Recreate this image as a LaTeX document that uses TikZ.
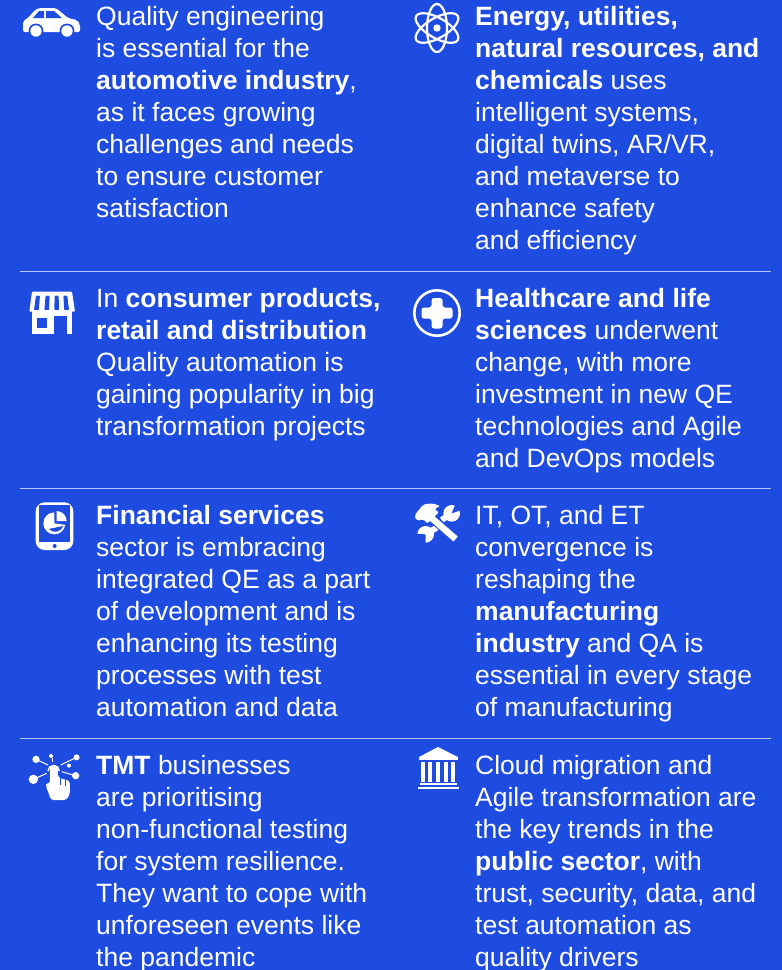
\documentclass[tikz,border=0pt]{standalone}
\usepackage{fontspec}
\setmainfont{Liberation Sans}
\definecolor{bg}{HTML}{1E4BE0}
\tikzset{
 x=1pt,y=-1pt,
 txt/.style={anchor=north west,inner sep=0pt,text=white,align=left,font=\fontsize{26.5}{32}\selectfont},
 rule/.style={draw=white!70!bg,line width=1pt},
 ic/.style={fill=white,draw=none},
 icb/.style={fill=bg,draw=none},
 icl/.style={draw=white,line width=2.2pt,fill=none},
 zoomed/.style={shift={#1},x=0.3333pt,y=-0.3333pt}
}
\begin{document}
\begin{tikzpicture}
\fill[bg] (0,0) rectangle (782,970);
\useasboundingbox (0,0) rectangle (782,970);
% rules
\coordinate (r1a) at (20,271); \coordinate (r1b) at (771,271);
\coordinate (r2a) at (20,488); \coordinate (r2b) at (771,488);
\coordinate (r3a) at (20,738); \coordinate (r3b) at (771,738);
\draw[rule] (r1a) -- (r1b);
\draw[rule] (r2a) -- (r2b);
\draw[rule] (r3a) -- (r3b);
% text
\node[txt] (t1) at (96,6) {Quality engineering\\is essential for the\\\textbf{automotive industry},\\as it faces growing\\challenges and needs\\to ensure customer\\satisfaction};
\node[txt] (t2) at (475,6) {\textbf{Energy, utilities,}\\\textbf{natural resources, and}\\\textbf{chemicals} uses\\intelligent systems,\\digital twins, AR/VR,\\and metaverse to\\enhance safety\\and efficiency};
\node[txt] (t3) at (96,288) {In \textbf{consumer products,}\\\textbf{retail and distribution}\\Quality automation is\\gaining popularity in big\\transformation projects};
\node[txt] (t4) at (475,288) {\textbf{Healthcare and life}\\\textbf{sciences} underwent\\change, with more\\investment in new QE\\technologies and Agile\\and DevOps models};
\node[txt] (t5) at (96,505) {\textbf{Financial services}\\sector is embracing\\integrated QE as a part\\of development and is\\enhancing its testing\\processes with test\\automation and data};
\node[txt] (t6) at (475,505) {IT, OT, and ET\\convergence is\\reshaping the\\\textbf{manufacturing}\\\textbf{industry} and QA is\\essential in every stage\\of manufacturing};
\node[txt] (t7) at (96,755) {\textbf{TMT} businesses\\are prioritising\\non-functional testing\\for system resilience.\\They want to cope with\\unforeseen events like\\the pandemic};
\node[txt] (t8) at (475,755) {Cloud migration and\\Agile transformation are\\the key trends in the\\\textbf{public sector}, with\\trust, security, data, and\\test automation as\\quality drivers};
% car
\fill[ic,rounded corners=2pt] (23,32) -- (23,21) -- (28,18) -- (35,10) -- (39,8) -- (56,8) -- (68,18) -- (77,20) -- (80,24) -- (80,32) -- cycle;
\fill[icb] (33,18) -- (39,11) -- (44,11) -- (44,18) -- cycle;
\fill[icb] (46,11) -- (54,11) -- (62,18) -- (46,18) -- cycle;
\fill[icb] (36,31) circle (7.5); \fill[icb] (67,31) circle (7.5);
\fill[ic] (36,31) circle (5.7); \fill[ic] (67,31) circle (5.7);
% atom
\begin{scope}[shift={(437,28)}]
\draw[icl] (0,0) ellipse [x radius=10,y radius=24];
\draw[icl,rotate=60] (0,0) ellipse [x radius=10,y radius=24];
\draw[icl,rotate=-60] (0,0) ellipse [x radius=10,y radius=24];
\fill[ic] (0,0) circle (3.7);
\end{scope}
% shop
\begin{scope}[zoomed={(10,275)}]
\fill[ic,rounded corners=1pt] (66,50) -- (186,50) -- (195,110) -- (58,110) -- cycle;
\foreach \a/\b in {84/79,113/110,140/140,166/170}{
  \fill[icb,rounded corners=1pt] (\a-6,62) -- (\a+6,62) -- (\b+7,106) -- (\b-7,106) -- cycle;}
\fill[ic] (67,105) rectangle (187,178);
\fill[icb] (80,128) rectangle (110,158);
\fill[icb] (132,122) rectangle (170,178);
\end{scope}
% plus
\draw[draw=white,line width=2.6pt] (437,313) circle (22.7);
\fill[ic,rounded corners=2.5pt] (431.5,298) -- (442.5,298) -- (442.5,307.5) -- (452.5,307.5) -- (452.5,318.5) -- (442.5,318.5) -- (442.5,328.5) -- (431.5,328.5) -- (431.5,318.5) -- (421.5,318.5) -- (421.5,307.5) -- (431.5,307.5) -- cycle;
% tablet
\begin{scope}[zoomed={(20,495)}]
\fill[ic,rounded corners=9pt] (47,22) rectangle (160,165);
\fill[icb] (56,31) rectangle (151,140);
\fill[icb] (104,153) circle (6);
\fill[ic] (103,85) -- (103,52) arc (-90:-352:33) -- cycle;
\fill[ic] (110,48) arc (-90:0:30) -- (110,78) -- cycle;
\fill[icb] (86,102) -- (130,93) .. controls (122,112) and (100,116) .. (86,102) -- cycle;
\end{scope}
% tools
\begin{scope}[zoomed={(405,495)}]
\fill[ic] (140,55) circle (25);
\fill[icb] (140,55) -- (158,12) -- (184,40) -- cycle;
\draw[white,line width=6pt] (140,55) -- (110,75);
\fill[ic] (62,118) circle (25);
\fill[icb] (62,118) -- (22,116) -- (30,150) -- (62,155) -- cycle;
\draw[white,line width=6pt] (62,118) -- (108,90);
\draw[bg,line width=9pt] (82,70) -- (150,130);
\draw[white,line width=6.5pt] (75,65) -- (152,132);
\fill[ic,rounded corners=2pt] (28,62) -- (36,78) -- (56,72) -- (66,86) -- (102,52) -- (88,42) -- (106,33) -- (82,25) -- (55,28) -- cycle;
\end{scope}
% touch
\begin{scope}[zoomed={(20,745)}]
\fill[ic] (48,43) circle (11); \fill[ic] (40,103) circle (14);
\fill[ic] (170,37) circle (9); \fill[ic] (167,92) circle (11);
\fill[ic] (93,33) circle (6); \fill[ic] (147,62) circle (6);
\draw[white,line width=1pt] (48,43) -- (84,60);
\draw[white,line width=1pt] (40,103) -- (80,85);
\draw[white,line width=1pt] (170,37) -- (122,60);
\draw[white,line width=1pt] (167,92) -- (125,80);
\draw[white,line width=1pt] (99,40) -- (99,50);
\draw[white,line width=1.4pt] (84,78) arc (-180:0:17);
\fill[ic,rounded corners=3pt] (90,75) arc (-180:0:12) -- (114,98) -- (150,108) -- (150,145) -- (140,165) -- (92,165) -- (85,140) -- (77,125) -- (80,112) -- (90,118) -- cycle;
\draw[bg,line width=0.8pt] (120,100) -- (120,120);
\draw[bg,line width=0.8pt] (135,105) -- (135,122);
\end{scope}
% bank
\fill[ic] (419,757) -- (438,747) -- (458,757) -- cycle;
\fill[ic] (419,757) rectangle (458,759.5);
\foreach \c in {422.5,430,438,445.5,453}{\fill[ic] (\c-2,762) rectangle (\c+2,782);}
\fill[ic] (420,782.5) rectangle (457,784.5);
\fill[ic] (418,787) rectangle (458.5,789);
\end{tikzpicture}
\end{document}
